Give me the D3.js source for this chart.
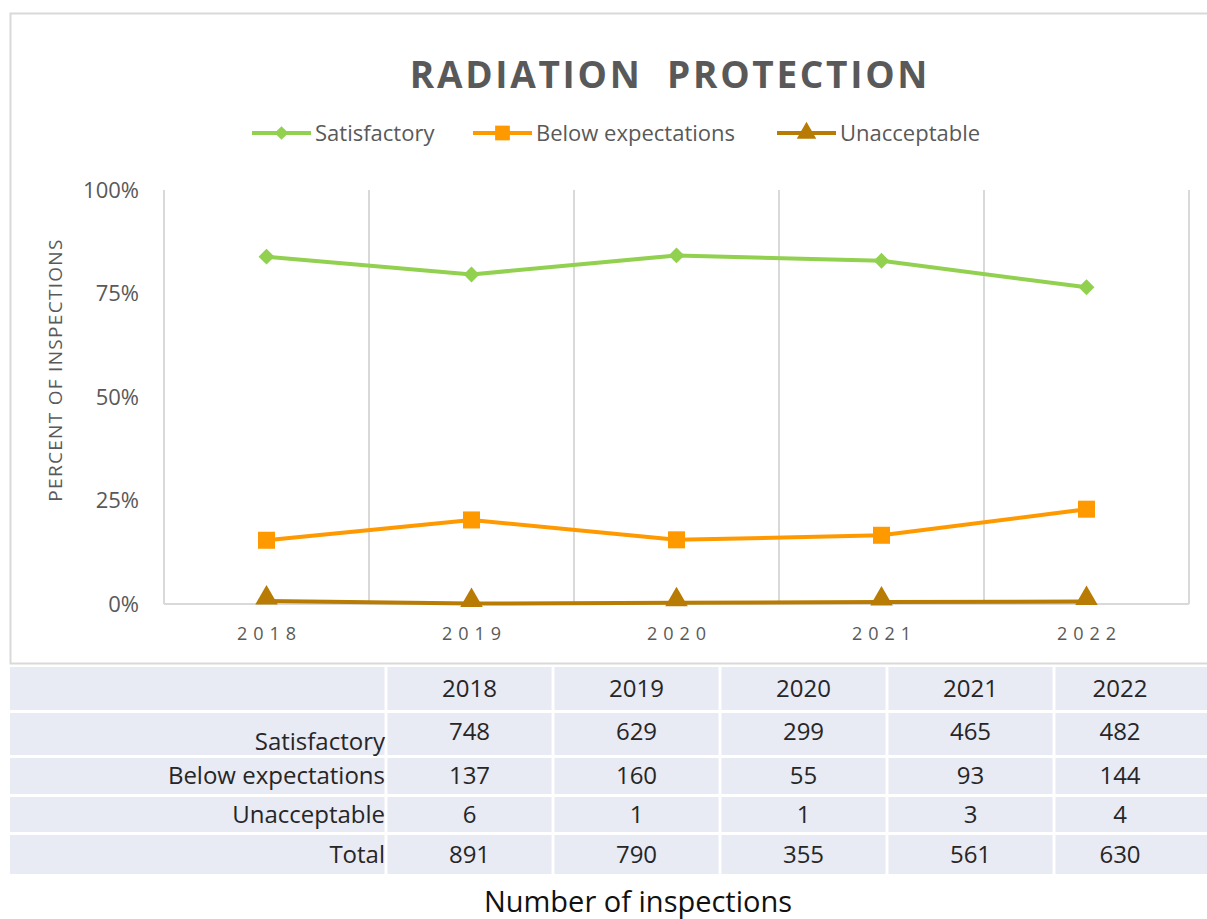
<!DOCTYPE html>
<html>
<head>
<meta charset="utf-8">
<script src="https://cdnjs.cloudflare.com/ajax/libs/d3/7.8.5/d3.min.js"></script>
<style>
    html, body { margin: 0; padding: 0; background: #fff; }
    #chart { width: 1207px; height: 919px; }
</style>
</head>
<body>
<div id="chart"></div>
<script>
var years = ['2018', '2019', '2020', '2021', '2022'];
var seriesNames = ['Satisfactory', 'Below expectations', 'Unacceptable'];

// percent of inspections
var satisfactoryPct = [83.9, 79.6, 84.2, 82.9, 76.5];
var belowPct = [15.4, 20.3, 15.5, 16.6, 22.9];
var unacceptablePct = [0.7, 0.1, 0.3, 0.5, 0.6];

// number of inspections (table rows)
var satisfactoryCount = [748, 629, 299, 465, 482];
var belowCount = [137, 160, 55, 93, 144];
var unacceptableCount = [6, 1, 1, 3, 4];
var totalCount = [891, 790, 355, 561, 630];

var yTicks = [0, 25, 50, 75, 100];

(function (d3) {
    'use strict';

    var W = 1207, H = 919;
    var font = '"Open Sans", sans-serif',
        labelColor = '#595959',
        gridColor = '#d9d9d9';

    var colors = ['#92D050', '#FF9900', '#B87B04'],
        symbols = [d3.symbolDiamond2, d3.symbolSquare, d3.symbolTriangle],
        symbolSizes = [160, 290, 220];

    var series = [satisfactoryPct, belowPct, unacceptablePct];

    var svg = d3.select('#chart')
        .append('svg')
        .attr('width', W)
        .attr('height', H)
        .style('font-family', font);

    // chart frame
    svg.append('rect')
        .attr('x', 10.5)
        .attr('y', 13.5)
        .attr('width', W)
        .attr('height', 650)
        .attr('fill', '#fff')
        .attr('stroke', gridColor)
        .attr('stroke-width', 2);

    svg.append('text')
        .attr('x', 670)
        .attr('y', 88)
        .attr('text-anchor', 'middle')
        .attr('fill', labelColor)
        .style('font-size', '37px')
        .style('font-weight', 'bold')
        .style('letter-spacing', '2.7px')
        .style('white-space', 'pre')
        .text('RADIATION  PROTECTION');

    // legend
    var legendX = [252, 473, 777];
    var legend = svg.selectAll('g.legend')
        .data(seriesNames)
        .enter()
        .append('g')
        .attr('class', 'legend')
        .attr('transform', function (d, i) {
            return 'translate(' + legendX[i] + ',133)';
        });

    legend.append('line')
        .attr('x1', 0)
        .attr('x2', 59)
        .attr('stroke', function (d, i) { return colors[i]; })
        .attr('stroke-width', 4);

    legend.append('path')
        .attr('transform', 'translate(29.5,0)')
        .attr('d', function (d, i) {
            return d3.symbol().type(symbols[i]).size(symbolSizes[i] * 0.75)();
        })
        .attr('fill', function (d, i) { return colors[i]; });

    legend.append('text')
        .attr('x', 63)
        .attr('y', 8)
        .attr('fill', labelColor)
        .style('font-size', '22px')
        .text(function (d) { return d; });

    // plot area
    var plot = { left: 164, right: 1189, top: 190, bottom: 604 };

    var x = d3.scaleBand()
        .domain(years)
        .range([plot.left, plot.right]);

    var y = d3.scaleLinear()
        .domain([0, 100])
        .range([plot.bottom, plot.top]);

    // vertical gridlines at category boundaries
    var bounds = years.map(function (d) { return x(d); }).concat([plot.right]);
    svg.selectAll('line.grid')
        .data(bounds)
        .enter()
        .append('line')
        .attr('class', 'grid')
        .attr('x1', function (d) { return d; })
        .attr('x2', function (d) { return d; })
        .attr('y1', plot.top)
        .attr('y2', plot.bottom)
        .attr('stroke', gridColor)
        .attr('stroke-width', 2);

    svg.append('line')
        .attr('x1', plot.left)
        .attr('x2', plot.right)
        .attr('y1', plot.bottom)
        .attr('y2', plot.bottom)
        .attr('stroke', gridColor)
        .attr('stroke-width', 2);

    var yAxis = svg.append('g')
        .attr('transform', 'translate(' + (plot.left - 22) + ',0)')
        .call(d3.axisLeft(y).tickValues(yTicks).tickSize(0).tickFormat(function (d) { return d + '%'; }));
    yAxis.select('.domain').remove();
    yAxis.selectAll('text')
        .attr('fill', labelColor)
        .style('font-size', '22px')
        .style('font-family', font);

    var xAxis = svg.append('g')
        .attr('transform', 'translate(0,' + (plot.bottom + 20) + ')')
        .call(d3.axisBottom(x).tickSize(0));
    xAxis.select('.domain').remove();
    xAxis.selectAll('text')
        .attr('dx', '3px')
        .attr('fill', labelColor)
        .style('font-size', '18px')
        .style('letter-spacing', '6px')
        .style('font-family', font);

    svg.append('text')
        .attr('transform', 'translate(62,370) rotate(-90)')
        .attr('text-anchor', 'middle')
        .attr('fill', labelColor)
        .style('font-size', '19px')
        .style('letter-spacing', '1.3px')
        .text('PERCENT OF INSPECTIONS');

    // lines and markers
    var line = d3.line()
        .x(function (d, i) { return x(years[i]) + x.bandwidth() / 2; })
        .y(function (d) { return y(d); });

    series.forEach(function (values, s) {
        svg.append('path')
            .datum(values)
            .attr('d', line)
            .attr('fill', 'none')
            .attr('stroke', colors[s])
            .attr('stroke-width', 4)
            .attr('stroke-linejoin', 'round');

        svg.selectAll('path.marker' + s)
            .data(values)
            .enter()
            .append('path')
            .attr('class', 'marker' + s)
            .attr('transform', function (d, i) {
                var dy = s === 2 ? -3 : 0;
                return 'translate(' + (x(years[i]) + x.bandwidth() / 2) + ',' + (y(d) + dy) + ')';
            })
            .attr('d', d3.symbol().type(symbols[s]).size(symbolSizes[s]))
            .attr('fill', colors[s]);
    });

    // table of counts
    var tableRows = [
        { label: '', values: years, top: 667, height: 43 },
        { label: 'Satisfactory', values: satisfactoryCount, top: 713, height: 42 },
        { label: 'Below expectations', values: belowCount, top: 758, height: 36 },
        { label: 'Unacceptable', values: unacceptableCount, top: 797, height: 35 },
        { label: 'Total', values: totalCount, top: 835, height: 39 }
    ];

    var colEdges = [10, 386, 553, 720, 887, 1054, 1210];

    var rows = svg.selectAll('g.trow')
        .data(tableRows)
        .enter()
        .append('g')
        .attr('class', 'trow');

    rows.each(function (row, r) {
        var g = d3.select(this);
        for (var c = 0; c < colEdges.length - 1; c++) {
            g.append('rect')
                .attr('x', colEdges[c] + (c === 0 ? 0 : 1.5))
                .attr('y', row.top)
                .attr('width', colEdges[c + 1] - colEdges[c] - (c === 0 ? 1.5 : 3))
                .attr('height', row.height)
                .attr('fill', '#E8EAF4');
        }
        var labelY = r === 1 ? row.top + row.height - 5 : row.top + row.height / 2 + 8;
        g.append('text')
            .attr('x', 385)
            .attr('y', labelY)
            .attr('text-anchor', 'end')
            .attr('fill', '#262626')
            .style('font-size', '24px')
            .text(row.label);
        g.selectAll('text.val')
            .data(row.values)
            .enter()
            .append('text')
            .attr('class', 'val')
            .attr('x', function (d, i) { return (colEdges[i + 1] + colEdges[i + 2]) / 2 - (i === 4 ? 12 : 0); })
            .attr('y', r === 1 ? row.top + row.height / 2 + 6 : row.top + row.height / 2 + 8)
            .attr('text-anchor', 'middle')
            .attr('fill', '#262626')
            .style('font-size', '24px')
            .text(function (d) { return d; });
    });

    svg.append('text')
        .attr('x', 638)
        .attr('y', 912)
        .attr('text-anchor', 'middle')
        .attr('fill', '#111')
        .style('font-size', '29px')
        .text('Number of inspections');

})(d3);
</script>
</body>
</html>
